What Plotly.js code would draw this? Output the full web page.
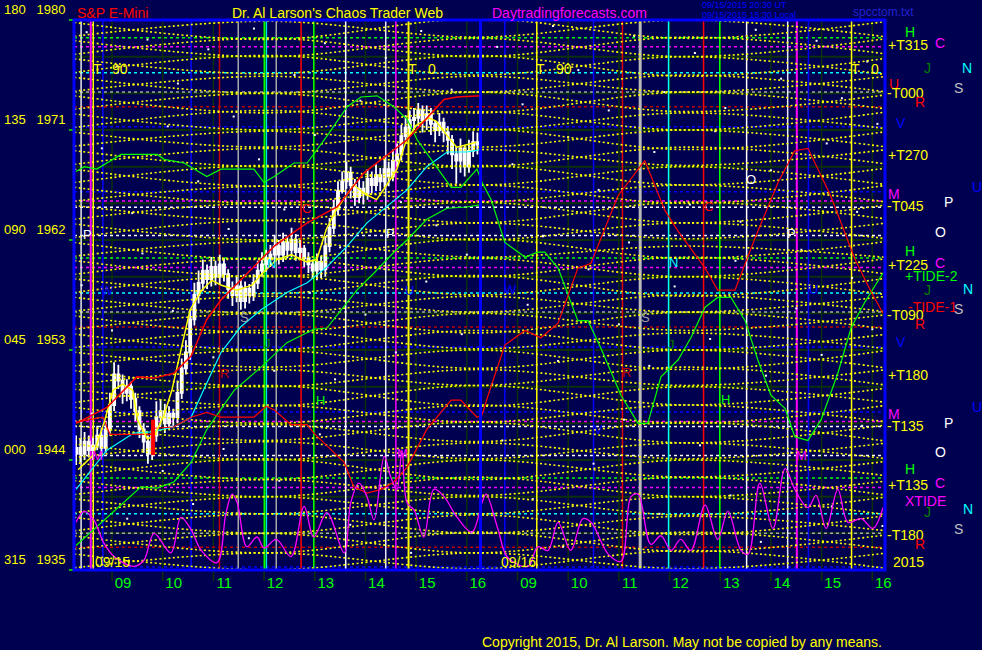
<!DOCTYPE html>
<html><head><meta charset="utf-8">
<script src="https://cdn.plot.ly/plotly-3.0.1.min.js"></script>
<style>html,body{margin:0;padding:0;background:#000050;overflow:hidden;}</style>
</head><body><div id="chart" style="width:982px;height:650px;"></div>
<script>
// ---------------- DATA ----------------
// x axis: session hours; day 1 hour h -> h, day 2 hour h -> h + 8
var hourTicks = [9,10,11,12,13,14,15,16,17,18,19,20,21,22,23,24];
var hourLabels = ['09','10','11','12','13','14','15','16','09','10','11','12','13','14','15','16'];
var priceTicks = [1980,1971,1962,1953,1944,1935];
var degreeLabels = ['180','135','090','045','000','315'];
var priceGrid = [1938,1941,1944,1947,1950,1953,1956,1959,1962,1965,1968,1971,1974,1977];

// 5-minute bars, day 1 (09/15)
var barStart = 8.25 + 1/24, barStep = 1/12;
var opens = [1944.5,1945.0,1944.5,1945.5,1944.8,1945.2,1946.0,1945.0,1946.5,1948.5,1951.0,1950.5,1949.5,1950.0,1949.0,1948.0,1946.5,1945.5,1944.5,1946.0,1947.5,1948.0,1947.0,1947.8,1947.5,1949.5,1951.5,1952.8,1955.5,1957.5,1958.5,1959.5,1958.8,1959.8,1959.0,1960.0,1959.2,1958.0,1957.5,1958.2,1957.0,1958.0,1957.5,1958.5,1959.5,1960.0,1960.5,1960.8,1961.5,1960.8,1961.8,1961.2,1962.0,1961.0,1961.3,1960.5,1960.0,1959.5,1960.2,1959.6,1961.5,1963.0,1964.5,1966.0,1966.8,1967.5,1966.5,1965.5,1966.2,1965.8,1967.0,1966.5,1967.3,1966.8,1967.8,1967.2,1968.5,1969.0,1970.5,1971.2,1971.8,1972.0,1972.6,1971.8,1972.3,1971.5,1971.0,1971.6,1970.8,1970.2,1969.0,1968.5,1969.5,1968.0,1969.3,1970.0];
var highs = [1946.0,1945.8,1946.3,1946.0,1945.9,1946.8,1946.6,1947.2,1949.5,1952.0,1951.8,1951.0,1950.6,1950.4,1949.5,1948.4,1947.0,1946.0,1946.6,1948.8,1949.0,1948.6,1948.4,1948.2,1950.5,1952.3,1953.8,1956.3,1958.5,1959.5,1960.4,1960.0,1960.6,1960.3,1960.8,1960.5,1959.6,1958.6,1959.0,1958.7,1958.6,1958.4,1959.2,1960.3,1961.0,1961.2,1961.6,1962.4,1962.0,1962.6,1962.3,1963.0,1962.5,1962.0,1961.6,1961.0,1960.4,1960.9,1960.7,1962.3,1963.8,1965.3,1966.8,1967.6,1968.4,1968.0,1967.0,1967.0,1966.8,1967.8,1967.6,1968.2,1967.9,1968.6,1968.4,1969.4,1969.9,1971.4,1972.2,1972.6,1972.8,1973.2,1973.0,1973.0,1972.8,1971.8,1972.4,1972.0,1971.3,1970.6,1969.6,1970.3,1969.8,1970.2,1970.9,1970.8];
var lows = [1943.6,1943.8,1944.0,1944.2,1944.0,1944.8,1944.3,1944.6,1946.0,1948.0,1949.8,1948.6,1948.8,1948.2,1947.2,1945.8,1944.6,1943.7,1944.0,1945.5,1946.8,1946.2,1946.5,1946.8,1947.0,1949.0,1951.0,1952.2,1955.0,1956.8,1957.8,1958.0,1958.2,1958.3,1958.4,1958.6,1957.2,1956.6,1956.9,1956.3,1956.4,1956.8,1957.0,1958.0,1959.0,1959.4,1959.8,1960.2,1960.0,1960.2,1960.5,1960.6,1960.3,1960.4,1959.8,1959.3,1958.8,1958.7,1958.9,1959.0,1961.0,1962.5,1964.0,1965.8,1966.2,1965.4,1964.8,1965.0,1964.9,1965.3,1965.8,1966.0,1966.0,1966.3,1966.4,1966.8,1968.0,1968.5,1970.0,1970.6,1971.0,1971.3,1970.8,1971.0,1970.6,1970.0,1970.5,1970.0,1969.0,1967.8,1966.6,1967.5,1967.2,1967.5,1968.8,1969.0];
var closes = [1945.0,1944.5,1945.5,1944.8,1945.2,1946.0,1945.0,1946.5,1948.5,1951.0,1950.5,1949.5,1950.0,1949.0,1948.0,1946.5,1945.5,1944.5,1946.0,1947.5,1948.0,1947.0,1947.8,1947.5,1949.5,1951.5,1952.8,1955.5,1957.5,1958.5,1959.5,1958.8,1959.8,1959.0,1960.0,1959.2,1958.0,1957.5,1958.2,1957.0,1958.0,1957.5,1958.5,1959.5,1960.0,1960.5,1960.8,1961.5,1960.8,1961.8,1961.2,1962.0,1961.0,1961.3,1960.5,1960.0,1959.5,1960.2,1959.6,1961.5,1963.0,1964.5,1966.0,1966.8,1967.5,1966.5,1965.5,1966.2,1965.8,1967.0,1966.5,1967.3,1966.8,1967.8,1967.2,1968.5,1969.0,1970.5,1971.2,1971.8,1972.0,1972.6,1971.8,1972.3,1971.5,1971.0,1971.6,1970.8,1970.2,1969.0,1968.5,1969.5,1968.0,1969.3,1970.0,1969.8];

// fast average (yellow)
var fastT = [8.33,8.63,8.86,9.02,9.21,9.41,9.50,9.70,9.85,10.03,10.18,10.38,10.54,10.77,10.97,11.16,11.46,11.76,11.95,12.25,12.54,12.84,13.04,13.23,13.43,13.63,13.77,14.02,14.22,14.42,14.62,14.81,15.01,15.25,15.40,15.60,15.80,16.00,16.19];
var fastP = [1943.2,1944.4,1947.3,1949.7,1950.2,1949.7,1947.3,1945.7,1946.1,1947.7,1949.7,1953.4,1956.3,1957.9,1958.7,1958.3,1957.9,1958.3,1959.2,1960.4,1960.8,1960.2,1960.4,1962.9,1964.5,1965.7,1966.5,1965.7,1965.3,1966.5,1967.8,1970.2,1971.4,1972.0,1971.7,1970.6,1969.6,1969.8,1970.0];
// red average
var redMaT = [8.29,8.90,9.49,9.83,10.22,10.56,10.87,11.15,12.20,12.85,13.44,13.97,14.82,15.55,15.81,16.28];
var redMaP = [1947.0,1948.3,1950.8,1950.7,1951.1,1952.5,1955.5,1957.1,1961.5,1963.4,1964.7,1967.5,1970.2,1973.5,1973.7,1973.8];
// cyan average
var cyanT = [8.29,8.90,9.43,9.77,10.22,10.56,10.87,11.15,11.54,11.94,12.45,12.85,13.24,13.64,14.03,14.42,14.82,15.21,15.61,16.00,16.28];
var cyanP = [1941.6,1944.8,1946.2,1946.3,1946.7,1947.5,1950.3,1952.8,1954.9,1956.3,1957.7,1958.5,1959.8,1961.5,1963.4,1964.7,1966.1,1968.0,1969.2,1969.2,1969.4];
// green slow average
var greenMaT = [8.29,8.90,9.57,9.89,10.22,10.56,10.87,11.41,11.94,12.45,12.98,13.24,13.83,14.17,14.56,14.82,15.21,15.61,16.00,16.28];
var greenMaP = [1937.0,1939.3,1941.8,1941.7,1942.2,1943.8,1946.5,1949.7,1951.6,1953.6,1954.7,1954.8,1957.9,1959.3,1961.0,1962.0,1963.7,1964.6,1964.7,1964.9];
// TIDE-1 (red forecast)
var tide1T = [8.29,8.82,8.96,9.81,9.83,10.22,10.56,10.87,11.15,11.80,12.04,12.20,12.53,12.85,12.98,13.58,13.77,14.03,14.31,14.56,14.82,15.21,15.69,15.88,16.20,16.30,16.42,16.75,17.15,17.46,17.80,18.19,18.45,18.98,19.51,19.91,20.17,20.70,20.95,21.29,21.68,22.14,22.47,22.73,23.18,23.66,23.97,24.21];
var tide1P = [1947.1,1947.5,1946.1,1946.1,1946.6,1946.7,1947.5,1947.9,1947.5,1947.5,1948.4,1948.1,1946.9,1946.9,1946.2,1943.8,1941.8,1941.3,1941.6,1942.2,1943.4,1946.5,1948.9,1948.9,1947.5,1947.7,1949.3,1953.4,1954.6,1954.0,1955.2,1959.7,1960.1,1965.6,1968.5,1964.4,1962.7,1959.7,1957.9,1957.9,1962.1,1966.7,1969.3,1969.5,1965.6,1960.4,1957.8,1956.0];
// TIDE-2 (green forecast)
var tide2T = [8.29,8.45,8.70,9.18,9.89,10.03,10.42,10.87,11.15,11.80,12.00,12.20,12.59,12.85,13.24,13.64,13.91,14.23,14.56,14.82,15.02,15.35,15.69,15.88,16.20,16.30,16.48,16.75,17.15,17.40,17.54,17.80,18.00,18.19,18.39,18.65,19.04,19.38,19.57,19.83,20.17,20.42,20.70,20.95,21.21,21.49,21.74,22.00,22.28,22.47,22.73,22.99,23.32,23.58,23.85,24.21];
var tide2P = [1967.6,1968.0,1967.8,1969.0,1969.0,1968.6,1968.3,1967.2,1967.8,1967.8,1966.7,1967.2,1968.3,1968.3,1970.5,1972.9,1973.7,1973.8,1972.9,1971.9,1970.2,1968.3,1966.3,1966.3,1967.8,1966.7,1965.3,1961.8,1960.6,1961.0,1961.0,1959.7,1957.5,1955.4,1955.4,1953.1,1949.3,1947.0,1947.0,1950.8,1952.2,1954.0,1956.5,1957.3,1957.3,1955.4,1952.2,1949.3,1948.2,1945.9,1945.6,1947.3,1951.1,1954.8,1956.9,1959.3];
// XTIDE (magenta oscillator)
var xtideT = [8.29,8.45,8.64,8.84,9.04,9.43,9.63,9.83,10.16,10.36,10.56,10.76,11.07,11.25,11.37,11.47,11.66,11.86,12.00,12.24,12.53,12.79,12.98,13.24,13.58,13.71,13.87,14.03,14.17,14.37,14.50,14.62,14.72,14.82,14.96,15.15,15.35,15.55,15.81,16.10,16.30,16.38,16.61,16.81,17.21,17.40,17.60,17.80,18.05,18.29,18.45,18.79,19.04,19.24,19.38,19.63,19.83,20.03,20.22,20.42,20.70,20.95,21.15,21.41,21.55,21.78,22.04,22.28,22.47,22.73,22.89,23.09,23.32,23.52,23.78,24.01,24.21];
var xtideP = [1938.9,1939.8,1939.1,1937.2,1936.1,1935.3,1935.8,1938.0,1936.4,1939.3,1938.3,1936.6,1935.6,1939.7,1941.2,1940.5,1936.9,1937.7,1936.8,1937.5,1936.1,1940.2,1937.7,1939.7,1936.4,1940.5,1942.1,1941.0,1939.1,1944.3,1942.6,1941.6,1944.8,1940.5,1939.9,1937.7,1941.6,1941.0,1939.3,1938.1,1940.5,1941.2,1938.4,1936.0,1935.3,1936.9,1936.6,1938.9,1936.6,1939.2,1938.9,1936.3,1935.7,1941.0,1941.2,1937.1,1937.8,1936.6,1937.5,1936.6,1940.3,1937.5,1939.8,1936.6,1936.3,1942.1,1938.4,1943.3,1941.6,1940.1,1941.1,1938.4,1941.6,1938.9,1939.2,1938.4,1940.1];
// red marker bar
var markT = [9.81,9.81];
var markP = [1944.4,1947.3];

// harmonic lattice (yellow dotted), values at lattice nodes
var latticeNodes = [7.9,12.05,16.2,20.35,24.5];
var latticeUp = [
[1933.5,1935.0,1933.6,1935.1,1933.5],[1935.0,1936.4,1935.1,1936.6,1935.0],[1936.5,1938.0,1936.4,1938.1,1936.6],
[1938.0,1939.6,1938.0,1939.4,1938.1],[1939.5,1941.0,1939.6,1941.0,1939.4],[1941.0,1942.4,1941.1,1942.6,1941.0],
[1942.5,1944.1,1942.4,1944.0,1942.6],[1944.0,1945.5,1944.1,1945.4,1944.0],[1945.5,1946.9,1945.5,1947.1,1945.4],
[1947.0,1948.5,1947.1,1948.5,1947.0],[1948.5,1950.1,1948.4,1950.0,1948.6],[1950.0,1951.4,1950.1,1951.6,1950.0],
[1951.5,1953.0,1951.5,1953.0,1951.4],[1953.0,1954.6,1953.1,1954.4,1953.0],[1954.5,1956.0,1954.4,1956.1,1954.6],
[1956.0,1957.4,1956.1,1957.5,1956.0],[1957.5,1959.1,1957.5,1959.0,1957.4],[1959.0,1960.5,1959.0,1960.6,1959.1],
[1960.5,1961.9,1960.6,1961.5,1960.5],[1962.0,1963.6,1962.0,1963.4,1962.0],[1963.5,1965.0,1963.4,1965.1,1963.6],
[1965.0,1966.4,1965.1,1966.5,1965.0],[1966.5,1968.1,1966.5,1968.0,1966.4],[1968.0,1969.5,1968.0,1969.6,1968.1],
[1969.5,1970.9,1969.6,1971.0,1969.5],[1971.0,1972.6,1971.0,1972.4,1971.0],[1972.5,1974.0,1972.4,1974.1,1972.6],
[1974.0,1975.4,1974.1,1975.5,1974.0],[1975.5,1977.1,1975.5,1977.0,1975.4],[1977.0,1978.5,1977.0,1978.6,1977.1],
[1978.5,1979.9,1978.6,1980.0,1978.5]];
var latticeDown = [
[1935.0,1933.5,1935.1,1933.6,1935.0],[1936.5,1935.0,1936.4,1935.1,1936.5],[1938.0,1936.4,1938.1,1936.5,1938.0],
[1939.5,1938.0,1939.5,1937.9,1939.6],[1941.0,1939.6,1941.0,1939.5,1941.1],[1942.5,1941.0,1942.6,1941.0,1942.4],
[1944.0,1942.4,1944.0,1942.6,1944.0],[1945.5,1944.0,1945.4,1944.1,1945.5],[1947.0,1945.6,1947.1,1945.4,1947.0],
[1948.5,1947.0,1948.5,1947.0,1948.6],[1950.0,1948.4,1950.1,1948.5,1950.0],[1951.5,1950.0,1951.4,1950.1,1951.5],
[1953.0,1951.6,1953.0,1951.4,1953.1],[1954.5,1953.0,1954.6,1953.0,1954.4],[1956.0,1954.4,1956.0,1954.6,1956.0],
[1957.5,1956.0,1957.4,1956.1,1957.5],[1959.0,1957.6,1959.1,1957.4,1959.0],[1960.5,1959.0,1960.5,1959.0,1960.6],
[1962.0,1960.4,1962.1,1960.5,1962.0],[1963.5,1962.0,1963.4,1962.1,1963.5],[1965.0,1963.6,1965.1,1963.4,1965.0],
[1966.5,1965.0,1966.5,1965.0,1966.6],[1968.0,1966.4,1968.1,1966.5,1968.0],[1969.5,1968.0,1969.4,1968.1,1969.5],
[1971.0,1969.6,1971.1,1969.4,1971.0],[1972.5,1971.0,1972.5,1971.0,1972.6],[1974.0,1972.4,1974.1,1972.5,1974.0],
[1975.5,1974.0,1975.4,1974.1,1975.5],[1977.0,1975.6,1977.1,1975.4,1977.0],[1978.5,1977.0,1978.5,1977.0,1978.6],
[1980.0,1978.4,1980.1,1978.5,1980.0]];

// scattered dots (t, price)
var dots = [[8.5,1979],[9.1,1976.2],[9.7,1978.4],[10.3,1974.8],[10.9,1977.6],[11.4,1972.1],[11.8,1979.3],[12.6,1975.5],[13.2,1978.1],[13.9,1973.4],[14.4,1976.9],[15.1,1979.1],[15.7,1974.3],[16.6,1977.8],[17.1,1973.1],[17.7,1979.5],[18.2,1975.9],[18.8,1972.6],[19.3,1978.7],[19.9,1974.1],[20.5,1977.3],[21.1,1972.8],[21.7,1979.2],[22.2,1975.2],[22.9,1978.3],[23.4,1973.6],[23.9,1976.6],
[8.8,1969.5],[9.4,1964.2],[10.1,1971.3],[10.7,1966.8],[11.3,1962.9],[11.9,1968.6],[12.4,1964.5],[13.0,1970.6],[13.5,1961.4],[14.1,1962.7],[14.7,1965.1],[15.4,1963.2],[16.0,1960.8],[16.9,1968.2],[17.5,1962.3],[18.0,1970.4],[18.6,1966.1],[19.2,1961.8],[19.7,1969.2],[20.4,1964.9],[20.9,1970.9],[21.4,1963.5],[22.0,1967.7],[22.6,1961.2],[23.1,1969.9],[23.7,1964.3],[24.1,1971.5],
[8.4,1958.3],[9.0,1954.6],[9.6,1960.9],[10.2,1956.2],[11.0,1952.4],[11.6,1959.1],[12.2,1951.3],[12.9,1957.7],[13.4,1950.6],[14.0,1955.9],[14.6,1952.8],[15.2,1958.6],[15.9,1954.3],[16.5,1950.2],[17.2,1956.7],[17.8,1952.1],[18.4,1959.6],[19.0,1955.1],[19.6,1951.7],[20.1,1958.2],[20.8,1953.9],[21.3,1960.3],[21.9,1950.9],[22.5,1956.4],[23.0,1952.6],[23.6,1958.9],[24.0,1954.7],
[8.6,1947.8],[9.3,1939.2],[10.0,1943.1],[10.6,1940.4],[11.2,1944.9],[11.7,1937.6],[12.3,1942.3],[13.1,1946.1],[13.7,1938.7],[14.3,1941.9],[14.9,1936.4],[15.5,1944.2],[16.1,1938.1],[16.7,1945.6],[17.3,1940.8],[17.9,1936.9],[18.5,1943.7],[19.1,1947.3],[19.8,1939.6],[20.6,1945.2],[21.2,1941.1],[21.8,1937.3],[22.4,1944.6],[23.2,1940.2],[23.8,1946.8],[24.2,1938.6]];

// horizontal harmonic levels
var hLevels = [1978.55,1977.81,1975.68,1974.1,1972.9,1971.26,1965.94,1965.2,1964.68,1962.36,
 1960.53,1959.76,1957.67,1956.1,1954.88,1953.24,1947.92,1947.15,1946.74,1944.37,
 1942.52,1941.74,1939.6,1938.0,1936.86,1935.25];
// vertical time lines
var vTimes = [8.39,8.58,8.63,8.82,10.56,11.12,11.49,12.01,12.05,12.24,12.73,12.98,13.61,14.40,14.60,14.85,16.75,17.38,18.50,19.07,19.42,19.98,20.67,20.99,21.52,22.33,22.51,22.74,23.59];
var dayBreak = 16.27;

// ---------------- STYLE ----------------
var FONT = 'Liberation Sans, Arial, sans-serif';
var YEL='#ffff00', GRN='#00ff00', DGRN='#008000', MAG='#ff00ff', CYN='#00ffff', RED='#ff0000', DRED='#c00000', BLU='#0000ff', GRY='#a8a8a8', WHT='#ffffff';
var hColors = [GRN,MAG,CYN,GRY,DRED,BLU,BLU,MAG,WHT,WHT, GRN,MAG,CYN,GRY,DRED,BLU,BLU,MAG,WHT,WHT, GRN,MAG,CYN,GRY,DRED,BLU];
var vColors = ['#e8e8e8',MAG,YEL,BLU,BLU,DRED,GRY,GRN,CYN,GRY,RED,GRN,WHT,'#e8e8ff',MAG,YEL,BLU,YEL,BLU,'#e00000','#b8b8b8',CYN,RED,GRN,WHT,'#e8e8ff',MAG,BLU,YEL];
var vWidths = [1.5,2,1.5,1.5,1.5,1.5,1.5,2,1,1.5,1.5,1.5,1.5,1.5,1.5,2,1.5,1.5,1.5,1.5,3,1.5,1.5,1.5,1.5,1.5,2,1.5,1.5];

function PX(px){return (px-74)/811;}
function PY(py){return (570-py)/550;}

// ---------------- BUILD ----------------
var barT = opens.map(function(_,i){return barStart + i*barStep;});

var latX = [], latY = [];
latticeUp.concat(latticeDown).forEach(function(row){
  row.forEach(function(v,j){latX.push(latticeNodes[j]); latY.push(v);});
  latX.push(null); latY.push(null);
});

function line(x,y,color,w,shape,dash){
  return {type:'scatter',mode:'lines',x:x,y:y,hoverinfo:'skip',
    line:{color:color,width:w,shape:shape||'linear',dash:dash||'solid'}};
}

var traces = [
  {type:'scatter',mode:'markers',x:dots.map(function(d){return d[0];}),y:dots.map(function(d){return d[1];}),
   marker:{color:'#ffffff',size:2,symbol:'square'},hoverinfo:'skip'},
  line(latX,latY,YEL,1.6,'spline','2px,2.5px'),
  line(greenMaT,greenMaP,GRN,1.2),
  line(cyanT,cyanP,CYN,1.2),
  line(tide2T,tide2P,GRN,1.2),
  line(tide1T,tide1P,RED,1.2),
  line(xtideT,xtideP,MAG,1.3,'spline'),
  {type:'candlestick',x:barT,open:opens,high:highs,low:lows,close:closes,
   increasing:{line:{color:'#ffffff',width:1.8},fillcolor:'#ffffff'},
   decreasing:{line:{color:'#ffffff',width:1.8},fillcolor:'#ffffff'},
   whiskerwidth:0,hoverinfo:'skip'},
  line(fastT,fastP,YEL,1.5),
  line(redMaT,redMaP,RED,1.5),
  line(markT,markP,RED,4)
];

var shapes = [];
priceGrid.forEach(function(p){
  shapes.push({type:'line',xref:'paper',x0:0,x1:1,yref:'y',y0:p,y1:p,layer:'below',line:{color:'#0c300c',width:2}});
});
hourTicks.forEach(function(h){
  shapes.push({type:'line',xref:'x',x0:h,x1:h,yref:'paper',y0:-0.02,y1:1,layer:'below',line:{color:'#0c300c',width:1.5}});
});
hLevels.forEach(function(p,i){
  shapes.push({type:'line',xref:'paper',x0:0,x1:1,yref:'y',y0:p,y1:p,layer:'below',line:{color:hColors[i],width:1.5,dash:'dot'}});
});
vTimes.forEach(function(t,i){
  shapes.push({type:'line',xref:'x',x0:t,x1:t,yref:'paper',y0:0,y1:1,layer:'below',line:{color:vColors[i],width:vWidths[i]}});
});
shapes.push({type:'line',xref:'x',x0:dayBreak,x1:dayBreak,yref:'paper',y0:0,y1:1,line:{color:BLU,width:3}});
shapes.push({type:'rect',xref:'paper',yref:'paper',x0:0,x1:1,y0:0,y1:1,line:{color:BLU,width:3}});

// text notes: [text, px, py, color, size, anchor]
var notes = [
 ['S&P E-Mini',75,13,RED,14,'left'],
 ["Dr. Al Larson's Chaos Trader Web",230,13,YEL,14,'left'],
 ['Daytradingforecasts.com',490,13,MAG,14,'left'],
 ['09/15/2015 20:30 UT',700,5,BLU,9,'left'],
 ['09/15/2015 15:30 Local',700,15,BLU,9,'left'],
 ['spcctom.txt',851,12,'#2020d0',12,'left'],
 ['Copyright 2015, Dr. Al Larson. May not be copied by any means.',480,642,YEL,14,'left'],
 ['T',97,69,YEL,14,'center'],['90',120,69,YEL,14,'center'],
 ['T',412,69,YEL,14,'center'],['0',432,69,YEL,14,'center'],
 ['T',540,69,YEL,14,'center'],['90',564,69,YEL,14,'center'],
 ['T',855,69,YEL,14,'center'],['0',875,69,YEL,14,'center'],
 ['P',87,235,WHT,13,'center'],['P',390,234,WHT,13,'center'],['P',791,234,WHT,13,'center'],
 ['C',306,208,RED,13,'center'],['C',708,207,RED,13,'center'],
 ['W',107,290,BLU,13,'center'],['W',510,289,BLU,13,'center'],
 ['U',409,290,BLU,13,'center'],['U',813,289,BLU,13,'center'],
 ['S',244,318,GRY,13,'center'],['S',645,318,GRY,13,'center'],
 ['J',267,343,DGRN,13,'center'],['J',671,344,DGRN,13,'center'],
 ['R',224,373,DRED,13,'center'],['R',626,372,DRED,13,'center'],
 ['H',320,400,GRN,13,'center'],['H',725,399,GRN,13,'center'],
 ['M',97,455,MAG,13,'center'],['M',402,453,MAG,13,'center'],['M',801,455,MAG,13,'center'],
 ['N',271,263,CYN,13,'center'],['N',673,262,CYN,13,'center'],
 ['O',751,179,WHT,13,'center'],['V',598,429,BLU,13,'center'],
 ['09/15',112,562,YEL,14,'center'],['09/16',518,562,YEL,14,'center'],
 // right side
 ['H',903,32,GRN,14,'left'],['+T315',886,45,YEL,14,'left'],['C',933,43,MAG,14,'left'],
 ['J',922,68,DGRN,14,'left'],['N',960,68,CYN,14,'left'],['S',952,88,'#c0c0c0',14,'left'],
 ['U',887,84,RED,14,'left'],['-T000',885,93,YEL,14,'left'],['R',913,102,RED,14,'left'],
 ['V',894,123,BLU,14,'left'],['+T270',886,155,YEL,14,'left'],['U',970,187,BLU,14,'left'],
 ['M',886,194,MAG,14,'left'],['-T045',885,206,YEL,14,'left'],['P',942,202,WHT,14,'left'],
 ['O',933,232,WHT,14,'left'],['H',903,251,GRN,14,'left'],['+T225',886,265,YEL,14,'left'],
 ['C',933,263,MAG,14,'left'],['+TIDE-2',903,276,GRN,14,'left'],['J',922,290,DGRN,14,'left'],
 ['N',961,289,CYN,14,'left'],['-TIDE-1',906,307,RED,14,'left'],['S',952,309,'#c0c0c0',14,'left'],
 ['-T090',885,315,YEL,14,'left'],['R',913,324,RED,14,'left'],['V',894,342,BLU,14,'left'],
 ['+T180',886,375,YEL,14,'left'],['U',970,407,BLU,14,'left'],['M',886,414,MAG,14,'left'],
 ['-T135',885,426,YEL,14,'left'],['P',942,423,WHT,14,'left'],['O',933,452,WHT,14,'left'],
 ['H',903,469,GRN,14,'left'],['+T135',886,485,YEL,14,'left'],['C',933,483,MAG,14,'left'],
 ['XTIDE',903,501,MAG,14,'left'],['J',922,512,DGRN,14,'left'],['N',961,509,CYN,14,'left'],
 ['S',952,529,'#c0c0c0',14,'left'],['-T180',885,535,YEL,14,'left'],['R',913,544,RED,14,'left'],
 ['2015',891,562,YEL,14,'left']
];
var annotations = notes.map(function(n){
  return {xref:'paper',yref:'paper',x:PX(n[1]),y:PY(n[2]),text:n[0],showarrow:false,
    xanchor:n[5],yanchor:'middle',font:{family:FONT,size:n[4],color:n[3]}};
});

var yTickText = priceTicks.map(function(p,i){return degreeLabels[i]+'\u00a0\u00a0\u00a0'+p;});
var xLabelPos = hourTicks.map(function(h){return h + 0.217;});

var layout = {
  width:982,height:650,
  paper_bgcolor:'#000050',plot_bgcolor:'#000050',
  margin:{l:74,r:97,t:20,b:80},
  showlegend:false,
  font:{family:FONT,color:YEL},
  xaxis:{range:[8.25,24.25],showgrid:false,zeroline:false,showline:false,
    tickmode:'array',tickvals:xLabelPos,ticktext:hourLabels,ticks:'',
    ticklabelstandoff:2,tickfont:{family:FONT,size:15,color:GRN},
    rangeslider:{visible:false},fixedrange:true},
  yaxis:{range:[1935,1980],showgrid:false,zeroline:false,showline:false,
    tickmode:'array',tickvals:priceTicks,ticktext:yTickText,
    ticks:'outside',ticklen:4,tickwidth:2,tickcolor:'#00c000',
    ticklabelposition:'outside top',ticklabelstandoff:5,
    tickfont:{family:FONT,size:13,color:YEL},fixedrange:true},
  shapes:shapes,
  annotations:annotations
};

Plotly.newPlot('chart',traces,layout,{displayModeBar:false,staticPlot:true});
</script></body></html>
